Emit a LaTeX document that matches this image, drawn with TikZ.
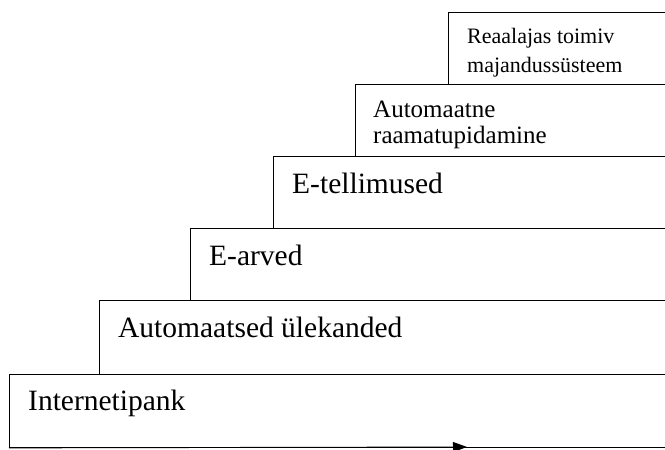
\documentclass[tikz,border=0pt]{standalone}
\usepackage{fontspec}
\setmainfont{Liberation Serif}
\usetikzlibrary{arrows.meta}

\begin{document}
\begin{tikzpicture}[x=1pt,y=-1pt,
		stair/.style={rectangle,draw,fill=white,line width=0.9pt,anchor=north west,inner sep=0pt,minimum height=72pt},
		big label/.style={anchor=base west,inner sep=0pt,font=\fontsize{29.5}{34}\selectfont},
		mid label/.style={anchor=base west,inner sep=0pt,align=left,font=\fontsize{25}{26}\selectfont},
		small label/.style={anchor=base west,inner sep=0pt,align=left,font=\fontsize{22}{29}\selectfont}]
		
		\useasboundingbox (0,0) rectangle (665,450);
		\clip (0,0) rectangle (665,450);
		
		\node[stair,minimum width=240pt] (6) at (448,12) {};
		\node[small label] at ([xshift=19pt,yshift=-60pt]6.north west) {Reaalajas toimiv\\majandussüsteem};
		
		\node[stair,minimum width=330pt] (5) at (355,84) {};
		\node[mid label] at ([xshift=18pt,yshift=-59pt]5.north west) {Automaatne\\raamatupidamine};
		
		\node[stair,minimum width=410pt] (4) at (273,156) {};
		\node[big label] at ([xshift=19pt,yshift=-37pt]4.north west) {E-tellimused};
		
		\node[stair,minimum width=490pt] (3) at (190,228) {};
		\node[big label] at ([xshift=19pt,yshift=-37pt]3.north west) {E-arved};
		
		\node[stair,minimum width=580pt,minimum height=74pt] (2) at (99,300) {};
		\node[big label] at ([xshift=19pt,yshift=-37pt]2.north west) {Automaatsed ülekanded};
		
		\node[stair,minimum width=670pt,minimum height=73pt] (1) at (9,374) {};
		\node[big label] at ([xshift=19pt,yshift=-36pt]1.north west) {Internetipank};
		
		\coordinate (tip) at (467,447);
		\draw[line width=0.9pt,-{Triangle[length=14pt,width=10pt]}] (1.south west) -- (tip);
\end{tikzpicture}
\end{document}
